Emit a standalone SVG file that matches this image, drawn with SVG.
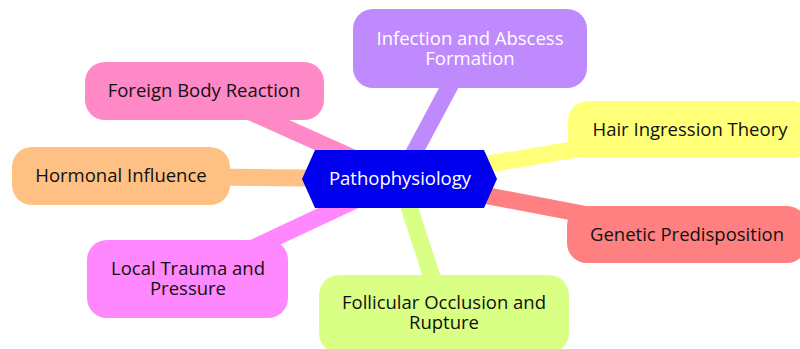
<svg xmlns="http://www.w3.org/2000/svg" width="800" height="349" viewBox="0 0 800 349">
<style>
text{font-family:"Open Sans","DejaVu Sans",sans-serif;font-size:18.5px;text-anchor:middle;fill:#111}
.edge{stroke-width:17;fill:none}
.lt{fill:#ffffff}
</style>
<rect width="800" height="349" fill="#ffffff"/>
<g id="connectors">
<line class="edge" x1="400" y1="179" x2="470" y2="48" stroke="#c08aff"/>
<line class="edge" x1="400" y1="179" x2="690" y2="130" stroke="#ffff78"/>
<line class="edge" x1="400" y1="179" x2="687" y2="234" stroke="#ff8080"/>
<line class="edge" x1="400" y1="179" x2="204" y2="91" stroke="#ff88c6"/>
<line class="edge" x1="400" y1="179" x2="121" y2="176" stroke="#ffc084"/>
<line class="edge" x1="400" y1="179" x2="187" y2="279" stroke="#ff88ff"/>
<line class="edge" x1="400" y1="179" x2="444" y2="314" stroke="#d9ff84"/>
</g>
<g id="node-infection">
<rect x="353" y="9" width="234" height="79" rx="20" fill="#c08aff"/>
<text class="lt"><tspan x="470" y="45">Infection and Abscess</tspan><tspan x="470" dy="20">Formation</tspan></text>
</g>
<g id="node-hair">
<rect x="568" y="101" width="244" height="57" rx="20" fill="#ffff78"/>
<text x="690" y="136">Hair Ingression Theory</text>
</g>
<g id="node-genetic">
<rect x="567" y="206" width="240" height="57" rx="20" fill="#ff8080"/>
<text x="687" y="241">Genetic Predisposition</text>
</g>
<g id="node-foreign">
<rect x="85" y="62" width="239" height="58" rx="20" fill="#ff88c6"/>
<text x="204" y="97">Foreign Body Reaction</text>
</g>
<g id="node-hormonal">
<rect x="12" y="147" width="218" height="58" rx="20" fill="#ffc084"/>
<text x="121" y="182">Hormonal Influence</text>
</g>
<g id="node-local">
<rect x="87" y="240" width="201" height="78" rx="20" fill="#ff88ff"/>
<text><tspan x="188" y="275">Local Trauma and</tspan><tspan x="188" dy="20">Pressure</tspan></text>
</g>
<g id="node-follicular">
<rect x="319" y="275" width="250" height="78" rx="20" fill="#d9ff84"/>
<text><tspan x="444" y="309">Follicular Occlusion and</tspan><tspan x="444" dy="20">Rupture</tspan></text>
</g>
<g id="node-root">
<polygon points="302,179 315,150 484,150 497,179 484,208 315,208" fill="#0000ee"/>
<text class="lt" x="400" y="185">Pathophysiology</text>
</g>
</svg>
